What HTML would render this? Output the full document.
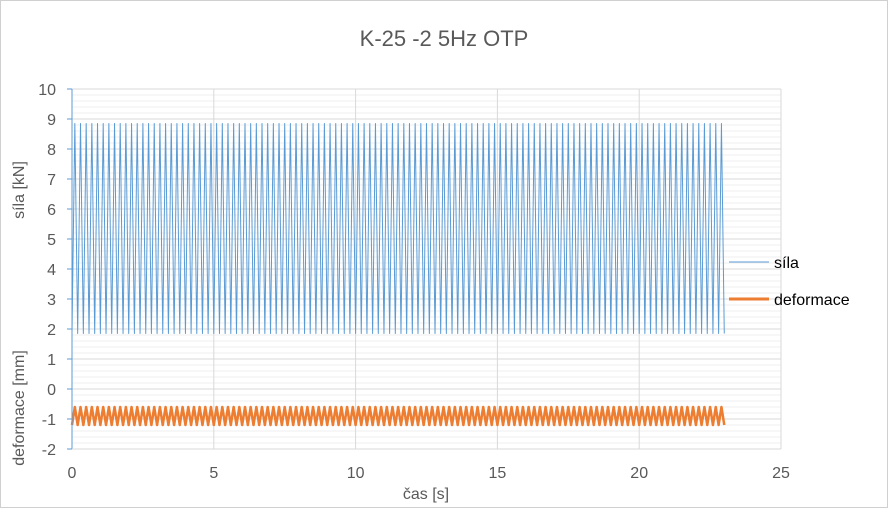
<!DOCTYPE html>
<html><head><meta charset="utf-8"><style>
body{margin:0;background:#fff}
svg{display:block;font-family:"Liberation Sans",sans-serif}
</style></head><body>
<svg id="c" width="888" height="508">
<rect x="0.5" y="0.5" width="887" height="507" fill="#fff" stroke="#d0d0d0"/>
<text x="444" y="46" text-anchor="middle" font-size="22" fill="#595959">K-25 -2 5Hz  OTP</text>
<g id="grid"></g><g id="series"></g><g id="axes"></g>
<text transform="translate(24,190) rotate(-90)" text-anchor="middle" font-size="16" fill="#595959">síla [kN]</text>
<text transform="translate(24,408) rotate(-90)" text-anchor="middle" font-size="16" fill="#595959">deformace [mm]</text>
<text x="426" y="499" text-anchor="middle" font-size="16" fill="#595959">čas [s]</text>
<g>
<line x1="729" y1="262" x2="769" y2="262" stroke="#5b9bd5" stroke-width="1"/>
<text x="774" y="268" font-size="16" fill="#000">síla</text>
<line x1="729" y1="299" x2="769" y2="299" stroke="#ed7d31" stroke-width="3"/>
<text x="774" y="305" font-size="16" fill="#000">deformace</text>
</g>
</svg>
<script>
const xTicks=[0,5,10,15,20,25];
const yTicks=[-2,-1,0,1,2,3,4,5,6,7,8,9,10];
const silaPeak=[8.85];
const silaTrough=[1.85];
const defPeak=[-0.6];
const defTrough=[-1.2];
const period=[0.2];
const tEnd=[23.1];
const NS="http://www.w3.org/2000/svg";
const X=t=>72+t*(709/25);
const Y=v=>449-(v+2)*30;
function mk(tag,attrs,parent){const e=document.createElementNS(NS,tag);for(const k in attrs)e.setAttribute(k,attrs[k]);parent.appendChild(e);return e;}
const grid=document.getElementById('grid'),axes=document.getElementById('axes'),ser=document.getElementById('series');
for(let v=-2;v<=10.001;v+=0.2){const l=mk('line',{x1:72,x2:781,y1:Y(v),y2:Y(v),stroke:'#efefef'},grid);

}
yTicks.forEach(v=>{const l=mk('line',{x1:72,x2:781,y1:Y(v),y2:Y(v),stroke:'#d9d9d9'},grid);


const tk=mk('line',{x1:67,x2:72,y1:Y(v),y2:Y(v),stroke:'#5b9bd5'},axes);


const t=mk('text',{x:56,y:Y(v)+6,'text-anchor':'end','font-size':16,fill:'#595959'},axes);t.textContent=v;

});
xTicks.forEach(v=>{if(v>0){const l=mk('line',{x1:X(v),x2:X(v),y1:89,y2:449,stroke:'#d9d9d9'},grid);

}
const t=mk('text',{x:X(v),y:478,'text-anchor':'middle','font-size':16,fill:'#595959'},axes);t.textContent=v;

});
const ax=mk('line',{x1:72,x2:72,y1:89,y2:449,stroke:'#5b9bd5'},axes);


const xa=mk('line',{x1:72,x2:781,y1:449,y2:449,stroke:'#d9d9d9'},axes);


function wave(hi,lo,color,w,name){let d='',i=0;
for(let t=0;t<=tEnd[0];t+=period[0]/2,i++){const v=(i%2?hi[i/2|0]??hi[0]:lo[i/2|0]??lo[0]);d+=(i?'L':'M')+X(t).toFixed(2)+','+Y(v).toFixed(2);}
const p=mk('path',{d:d,fill:'none',stroke:color,'stroke-width':w,'stroke-linejoin':'round'},ser);

}
wave(silaPeak,silaTrough,'#5b9bd5',1,'series-sila');
wave(defPeak,defTrough,'#ed7d31',2.5,'series-deformace');
</script>
</body></html>
